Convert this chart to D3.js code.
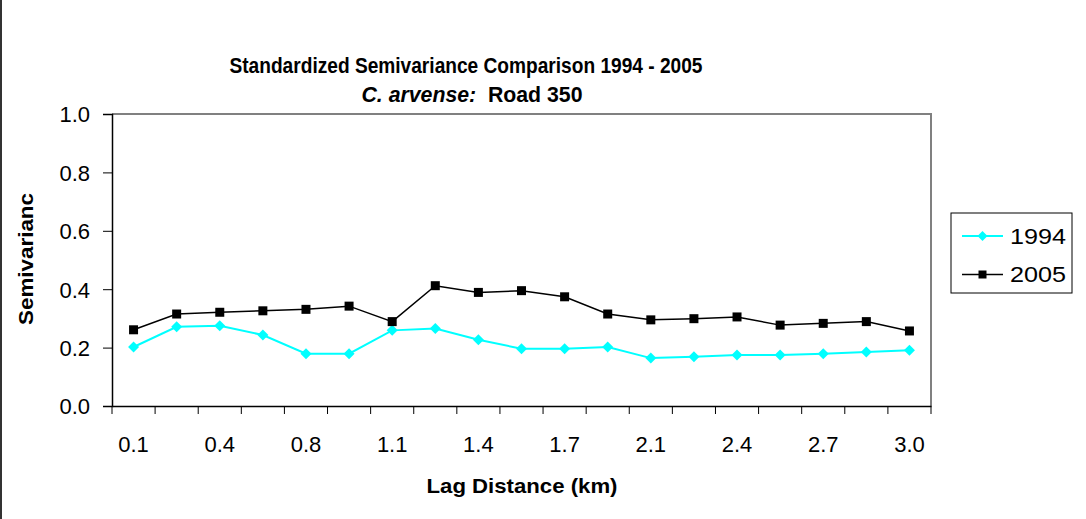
<!DOCTYPE html>
<html>
<head>
<meta charset="utf-8">
<script src="https://cdn.jsdelivr.net/npm/d3@7"></script>
<style>
  html, body { margin: 0; padding: 0; background: #fff; }
  svg { display: block; font-family: "Liberation Sans", Arial, sans-serif; }
</style>
</head>
<body>
<svg id="chart" width="1086" height="519"></svg>
<script>
// Lag distances (km), one per class
const categories = ["0.1","0.3","0.4","0.6","0.8","0.9","1.1","1.3","1.4","1.6",
                    "1.7","1.9","2.1","2.2","2.4","2.6","2.7","2.9","3.0"];
// Labels printed under the axis (every second class)
const tickLabels = ["0.1","0.4","0.8","1.1","1.4","1.7","2.1","2.4","2.7","3.0"];
const yTicks = [0, 0.2, 0.4, 0.6, 0.8, 1.0];

const series1994 = [0.202, 0.271, 0.275, 0.243, 0.179, 0.179, 0.259, 0.265, 0.227, 0.196,
                    0.196, 0.202, 0.164, 0.169, 0.175, 0.175, 0.179, 0.185, 0.191];
const series2005 = [0.261, 0.315, 0.321, 0.326, 0.331, 0.342, 0.289, 0.412, 0.389, 0.395,
                    0.374, 0.315, 0.295, 0.299, 0.305, 0.277, 0.283, 0.289, 0.257];

const seriesList = [
  { name: "1994", values: series1994, color: "#00FFFF", width: 2, marker: "diamond" },
  { name: "2005", values: series2005, color: "#000000", width: 1.5, marker: "square" }
];

const FONT = "Liberation Sans, Arial, sans-serif";
const svg = d3.select("#chart");
const plot = { left: 112, top: 114, right: 931, bottom: 406 };

const x = d3.scaleBand().domain(categories).range([plot.left, plot.right]);
const y = d3.scaleLinear().domain([0, 1]).range([plot.bottom, plot.top]);
const cx = d => x(d) + x.bandwidth() / 2;

// outer frame edge on the left
svg.append("line").attr("x1", 1).attr("x2", 1).attr("y1", 0).attr("y2", 519)
  .attr("stroke", "#333").attr("stroke-width", 2);

// plot area border (top and right in grey)
svg.append("path")
  .attr("d", `M${plot.left},${plot.top}H${plot.right}V${plot.bottom}`)
  .attr("fill", "none").attr("stroke", "#808080").attr("stroke-width", 2);

// y axis
const yAxis = d3.axisLeft(y).tickValues(yTicks).tickFormat(d3.format(".1f"))
  .tickSize(9).tickPadding(13);
const gy = svg.append("g").attr("transform", `translate(${plot.left},0)`).call(yAxis);
gy.attr("font-size", null).attr("font-family", null);
gy.select(".domain").attr("stroke", "#000").attr("stroke-width", 1.5);
gy.selectAll(".tick line").attr("stroke", "#000");
gy.selectAll("text").attr("font-size", 22).attr("fill", "#000")
  .attr("font-family", FONT).attr("dy", "0.36em");

// x axis: tick marks on class boundaries, labels on every second class
const bounds = categories.map(c => x(c)).concat([plot.right]);
svg.append("g").selectAll("line").data(bounds).join("line")
  .attr("x1", d => d).attr("x2", d => d)
  .attr("y1", plot.bottom).attr("y2", plot.bottom + 8)
  .attr("stroke", "#000").attr("stroke-width", 1);
const xAxis = d3.axisBottom(x)
  .tickValues(categories.filter(c => tickLabels.includes(c)))
  .tickSize(0).tickPadding(46);
const gx = svg.append("g").attr("transform", `translate(0,${plot.bottom})`).call(xAxis);
gx.attr("font-size", null).attr("font-family", null);
gx.select(".domain").attr("stroke", "#000").attr("stroke-width", 1.5);
gx.selectAll("text").attr("font-size", 22).attr("fill", "#000")
  .attr("font-family", FONT).attr("dy", null);

// lines and markers
const line = d3.line().x((d, i) => cx(categories[i])).y(d => y(d));
const diamond = s => `M0,${-s}L${s},0L0,${s}L${-s},0Z`;
const square = s => `M${-s},${-s}H${s}V${s}H${-s}Z`;

seriesList.forEach(s => {
  svg.append("path").datum(s.values)
    .attr("d", line).attr("fill", "none")
    .attr("stroke", s.color).attr("stroke-width", s.width);
  svg.append("g").selectAll("path").data(s.values).join("path")
    .attr("transform", (d, i) => `translate(${cx(categories[i])},${y(d)})`)
    .attr("d", s.marker === "diamond" ? diamond(5.5) : square(4.5))
    .attr("fill", s.color);
});

// titles
svg.append("text").attr("x", 466).attr("y", 73).attr("text-anchor", "middle")
  .attr("font-size", 22).attr("font-weight", "bold")
  .attr("textLength", 473).attr("lengthAdjust", "spacingAndGlyphs")
  .text("Standardized Semivariance Comparison 1994 - 2005");
const sub = svg.append("text").attr("x", 472).attr("y", 101.5).attr("text-anchor", "middle")
  .attr("font-size", 22).attr("font-weight", "bold")
  .attr("textLength", 221).attr("lengthAdjust", "spacingAndGlyphs");
sub.append("tspan").attr("font-style", "italic").text("C. arvense:");
sub.append("tspan").text("\u00a0\u00a0Road 350");

svg.append("text").attr("x", 522).attr("y", 493).attr("text-anchor", "middle")
  .attr("font-size", 21).attr("font-weight", "bold")
  .attr("textLength", 191).attr("lengthAdjust", "spacingAndGlyphs")
  .text("Lag Distance (km)");

svg.append("text").attr("transform", "translate(33,259) rotate(-90)")
  .attr("text-anchor", "middle").attr("font-size", 21).attr("font-weight", "bold")
  .attr("textLength", 132).attr("lengthAdjust", "spacingAndGlyphs")
  .text("Semivarianc");

// legend
const lg = svg.append("g");
lg.append("rect").attr("x", 951).attr("y", 213).attr("width", 121).attr("height", 80)
  .attr("fill", "#fff").attr("stroke", "#000").attr("stroke-width", 1);
const legendY = [236, 274.5];
seriesList.forEach((s, i) => {
  const ly = legendY[i];
  lg.append("line").attr("x1", 962).attr("x2", 1003).attr("y1", ly).attr("y2", ly)
    .attr("stroke", s.color).attr("stroke-width", s.width);
  lg.append("path").attr("transform", `translate(982.5,${ly})`)
    .attr("d", s.marker === "diamond" ? diamond(5) : square(4)).attr("fill", s.color);
  lg.append("text").attr("x", 1010).attr("y", ly + 7.5).attr("font-size", 22)
    .attr("textLength", 56).attr("lengthAdjust", "spacingAndGlyphs")
    .text(s.name);
});
</script>
</body>
</html>
